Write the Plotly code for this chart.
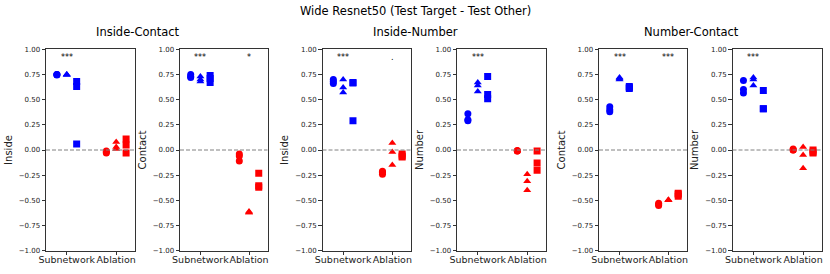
import plotly.graph_objects as go

categories = ["Subnetwork", "Ablation"]
marker_symbols = ["circle", "triangle-up", "square"]
group_offsets = [-0.2, 0.0, 0.2]

# values per panel: [category][marker group] -> list of points
p1_label = "Inside"
p1_sub = [[0.75, 0.745, 0.75], [0.75, 0.745, 0.75], [0.68, 0.63, 0.06]]
p1_abl = [[-0.01, -0.02, -0.03], [0.08, 0.03, 0.01], [0.11, 0.05, -0.03]]
p1_sig = ["***", ""]

p2_label = "Contact"
p2_sub = [[0.75, 0.73, 0.72], [0.73, 0.70, 0.68], [0.74, 0.71, 0.67]]
p2_abl = [[-0.04, -0.06, -0.11], [-0.61, -0.62, -0.62], [-0.23, -0.355, -0.37]]
p2_sig = ["***", "*"]

p3_label = "Inside"
p3_sub = [[0.70, 0.68, 0.66], [0.70, 0.62, 0.57], [0.67, 0.665, 0.29]]
p3_abl = [[-0.21, -0.22, -0.24], [0.07, -0.02, -0.15], [-0.04, -0.06, -0.07]]
p3_sig = ["***", "."]

p4_label = "Number"
p4_sub = [[0.36, 0.30, 0.29], [0.67, 0.64, 0.58], [0.73, 0.55, 0.51]]
p4_abl = [[-0.01, -0.01, -0.005], [-0.24, -0.31, -0.40], [-0.01, -0.13, -0.20]]
p4_sig = ["***", ""]

p5_label = "Contact"
p5_sub = [[0.43, 0.40, 0.38], [0.72, 0.71, 0.70], [0.63, 0.62, 0.61]]
p5_abl = [[-0.53, -0.55, -0.54], [-0.50, -0.50, -0.495], [-0.43, -0.46, -0.44]]
p5_sig = ["***", "***"]

p6_label = "Number"
p6_sub = [[0.69, 0.60, 0.565], [0.72, 0.70, 0.64], [0.59, 0.41, 0.41]]
p6_abl = [[0.01, 0.0, 0.0], [0.03, -0.05, -0.18], [0.0, -0.02, -0.03]]
p6_sig = ["***", ""]

pair_titles = ["Inside-Contact", "Inside-Number", "Number-Contact"]
main_title = "Wide Resnet50 (Test Target - Test Other)"
y_ticks = [-1.0, -0.75, -0.5, -0.25, 0.0, 0.25, 0.5, 0.75, 1.0]

panels = [
    (p1_label, p1_sub, p1_abl, p1_sig),
    (p2_label, p2_sub, p2_abl, p2_sig),
    (p3_label, p3_sub, p3_abl, p3_sig),
    (p4_label, p4_sub, p4_abl, p4_sig),
    (p5_label, p5_sub, p5_abl, p5_sig),
    (p6_label, p6_sub, p6_abl, p6_sig),
]

W, H = 830, 274
x_px = [(46, 135), (180, 267.5), (322.5, 411), (457, 546), (599, 687), (732.5, 822)]
y_top, y_bot = 49.3, 250.7
ydom = [1 - y_bot / H, 1 - y_top / H]
colors = ["#0000ff", "#ff0000"]
FONT = "DejaVu Sans"

fig = go.Figure()
layout = {}
shapes = []
annotations = []
for i, (label, sub, abl, sig) in enumerate(panels):
    n = i + 1
    xa = "x" if n == 1 else f"x{n}"
    ya = "y" if n == 1 else f"y{n}"
    for ci, groups in enumerate([sub, abl]):
        for gi, vals in enumerate(groups):
            fig.add_trace(go.Scatter(
                x=[ci + group_offsets[gi]] * len(vals), y=vals,
                mode="markers", xaxis=xa, yaxis=ya, showlegend=False,
                marker=dict(symbol=marker_symbols[gi], color=colors[ci], size=7,
                            line=dict(width=0)),
            ))
    x0, x1 = x_px[i]
    layout[f"xaxis{n}"] = dict(
        domain=[x0 / W, x1 / W], anchor=ya, range=[-0.42, 1.38],
        tickvals=[0, 1], ticktext=categories, ticks="outside", ticklen=3.5,
        tickcolor="#333", showgrid=False, zeroline=False, showline=True,
        linecolor="#333", linewidth=1, mirror=True, tickangle=0, automargin=False,
        ticklabelstandoff=-4,
        tickfont=dict(family=FONT, size=9.5, color="#222"),
    )
    layout[f"yaxis{n}"] = dict(
        domain=ydom, anchor=xa, range=[-1, 1], tickvals=y_ticks,
        ticktext=[f"{v:.2f}".replace("-", "\u2212") for v in y_ticks],
        ticks="outside", ticklen=3.5, tickcolor="#333", showgrid=False,
        zeroline=False, showline=True, linecolor="#333", linewidth=1, mirror=True,
        automargin=False,
        tickfont=dict(family=FONT, size=7, color="#222"),
        title=dict(text=label, font=dict(family=FONT, size=10, color="#222"), standoff=4),
    )
    shapes.append(dict(type="line", xref=f"{xa} domain", yref=ya, x0=0, x1=1, y0=0, y1=0,
                       line=dict(color="#808080", width=1, dash="4px,2px")))
    for ci, s in enumerate(sig):
        if s:
            annotations.append(dict(x=ci, y=0.92, xref=xa, yref=ya, text=s, showarrow=False,
                                     yanchor="middle",
                                     font=dict(family=FONT, size=8, color="black")))

for k, t in enumerate(pair_titles):
    annotations.append(dict(x=(k + 0.5) / 3, y=1 - 32 / H, xref="paper", yref="paper", text=t,
                            showarrow=False, xanchor="center", yanchor="middle",
                            font=dict(family=FONT, size=11.5, color="black")))
annotations.append(dict(x=0.5, y=1 - 11 / H, xref="paper", yref="paper", text=main_title,
                        showarrow=False, xanchor="center", yanchor="middle",
                        font=dict(family=FONT, size=11.5, color="black")))

fig.update_layout(
    width=W, height=H, margin=dict(l=0, r=0, t=0, b=0, autoexpand=False),
    plot_bgcolor="white", paper_bgcolor="white",
    shapes=shapes, annotations=annotations, **layout,
)
fig.write_html("out.html", config={"displayModeBar": False},
               post_script="document.body.style.margin='0';document.body.style.padding='0';")
